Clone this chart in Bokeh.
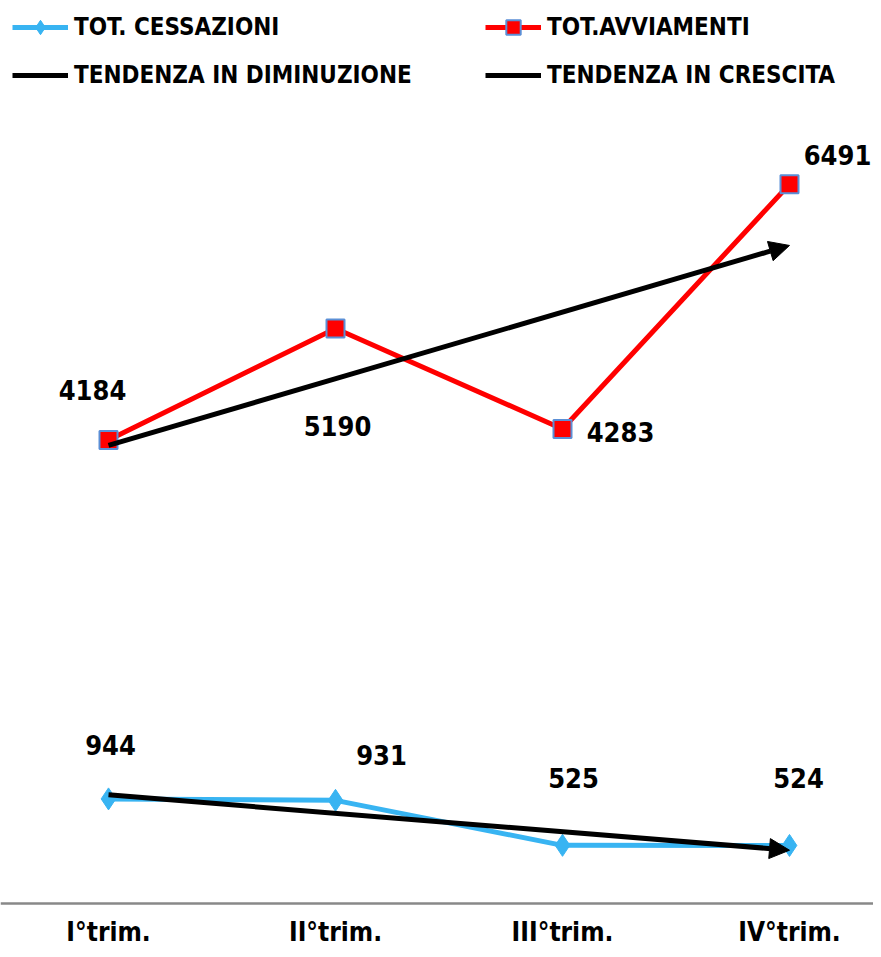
from bokeh.plotting import figure
from bokeh.models import (Range1d, Legend, LegendItem, Arrow, NormalHead,
                          ColumnDataSource, Span)
from bokeh.embed import file_html
from bokeh.resources import INLINE
from bokeh.core.properties import value

# ---------------- data ----------------
quarters = ["I°trim.", "II°trim.", "III°trim.", "IV°trim."]
x_pos = [1, 2, 3, 4]
avviamenti = [4184, 5190, 4283, 6491]
cessazioni = [944, 931, 525, 524]
trend_x = [1, 4]
trend_avviamenti = [4135, 5939]
trend_cessazioni = [981, 481]

# ---------------- styles / layout ----------------
FONT = "DejaVu Sans Condensed, DejaVu Sans"
BLUE = "#38B4F2"
RED = "#FF0000"
SQ_EDGE = "#5B8FD6"

# label offsets in screen px (layout only)
avv_dx = [-16, 2, 58, 48]
avv_dy = [-50, 98, 3, -29]
ces_dx = [2, 46, 11, 9]
ces_dy = [-54, -45, -67, -67]
cat_offset = 28

W, H = 873, 949
px_per_x = 227.0
px_per_y = 0.1108
zero_px = 903            # baseline position from the top
x0 = 1 - 108 / px_per_x

p = figure(width=W, height=H, output_backend="svg", toolbar_location=None,
           x_range=Range1d(x0, x0 + W / px_per_x),
           y_range=Range1d(-(H - zero_px) / px_per_y, zero_px / px_per_y),
           min_border=0)
p.extra_y_ranges = {"offscreen": Range1d(-20000, -10000)}
p.outline_line_color = None
p.xgrid.visible = False
p.ygrid.visible = False
p.xaxis.visible = False
p.yaxis.visible = False
p.background_fill_color = "white"
p.border_fill_color = "white"

# category axis: baseline + labels
p.add_layout(Span(location=0, dimension="width", line_color="#888888",
                  line_width=2.5))
cat_src = ColumnDataSource(dict(x=x_pos, y=[0] * len(x_pos), t=quarters))
p.text(x="x", y="y", text="t", y_offset=cat_offset, source=cat_src,
       text_align="center", text_baseline="middle", text_font=value(FONT),
       text_font_style="bold", text_font_size="26px", text_color="black")

# series
ces_line = p.line(x_pos, cessazioni, line_color=BLUE, line_width=5)
ces_pts = p.scatter(x_pos, cessazioni, marker="diamond", size=22,
                    fill_color=BLUE, line_color=BLUE)
avv_line = p.line(x_pos, avviamenti, line_color=RED, line_width=5)
avv_pts = p.scatter(x_pos, avviamenti, marker="square", size=18,
                    fill_color=RED, line_color=SQ_EDGE, line_width=2)

# trend arrows
for ys in (trend_cessazioni, trend_avviamenti):
    p.add_layout(Arrow(end=NormalHead(size=20, fill_color="black",
                                      line_color="black", line_width=1),
                       x_start=trend_x[0], y_start=ys[0],
                       x_end=trend_x[1], y_end=ys[1],
                       line_color="black", line_width=5))

# legend proxies for the trends (drawn on an off-screen range)
trend_dec_proxy = p.line(trend_x, trend_cessazioni, line_color="black",
                         line_width=5, y_range_name="offscreen")
trend_inc_proxy = p.line(trend_x, trend_avviamenti, line_color="black",
                         line_width=5, y_range_name="offscreen")

# data labels
src_a = ColumnDataSource(dict(x=x_pos, y=avviamenti,
                              t=[str(v) for v in avviamenti],
                              dx=avv_dx, dy=avv_dy))
src_c = ColumnDataSource(dict(x=x_pos, y=cessazioni,
                              t=[str(v) for v in cessazioni],
                              dx=ces_dx, dy=ces_dy))
for s in (src_a, src_c):
    p.text(x="x", y="y", text="t", x_offset="dx", y_offset="dy", source=s,
           text_font=value(FONT), text_font_style="bold",
           text_font_size="27px", text_color="black",
           text_align="center", text_baseline="middle")

def make_legend(items, loc):
    lg = Legend(items=items, location=loc, orientation="vertical",
                glyph_width=56, glyph_height=36, spacing=12, padding=0,
                margin=0, label_standoff=6,
                label_text_font=FONT, label_text_font_style="bold",
                label_text_font_size="24px", label_text_color="black",
                background_fill_alpha=0, border_line_color=None)
    p.add_layout(lg)
    return lg

# legend top edge 9px below the top of the figure (84px tall)
leg_bottom = H - 9 - 84
make_legend([LegendItem(label="TOT. CESSAZIONI", renderers=[ces_line, ces_pts]),
             LegendItem(label="TENDENZA IN DIMINUZIONE", renderers=[trend_dec_proxy])],
            (12, leg_bottom))
make_legend([LegendItem(label="TOT.AVVIAMENTI", renderers=[avv_line, avv_pts]),
             LegendItem(label="TENDENZA IN CRESCITA", renderers=[trend_inc_proxy])],
            (485, leg_bottom))

open("out.html", "w").write(file_html(p, INLINE))
